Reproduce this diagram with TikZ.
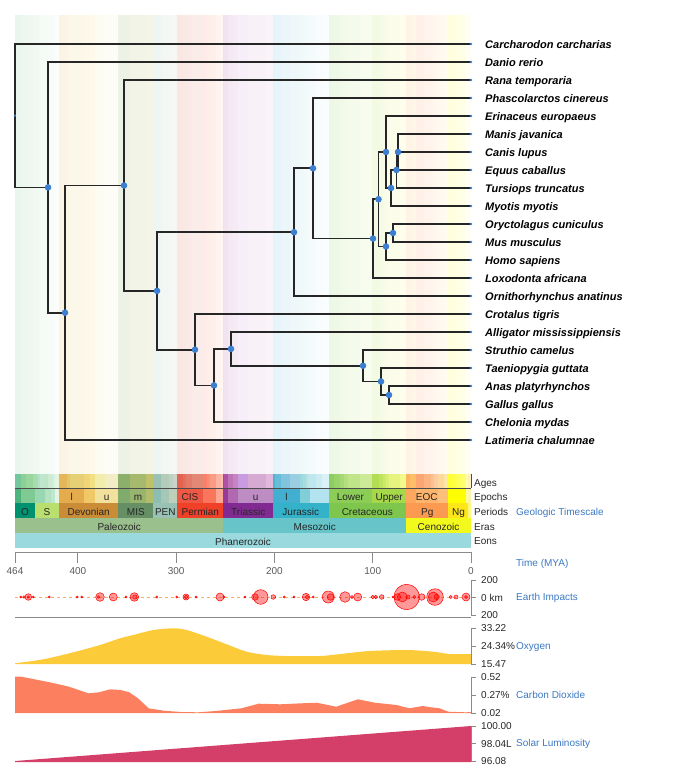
\documentclass[tikz,border=0pt]{standalone}
\usepackage{fontspec}
\setmainfont{Liberation Sans}
\definecolor{TreeBlue}{HTML}{3C7FD1}
\definecolor{LinkBlue}{HTML}{3B78C2}
\definecolor{OxyYellow}{HTML}{FBCB3A}
\definecolor{CoCoral}{HTML}{FC8060}
\definecolor{SunRed}{HTML}{D43F6A}
\definecolor{AxisGray}{HTML}{8A8A8A}
\definecolor{DashOrange}{HTML}{F5B060}
\usepackage{tikz}
\usetikzlibrary{positioning}
\newcommand{\tpos}[1]{471-0.98276*(#1)}

\begin{document}
\begin{tikzpicture}[x=1pt, y=-1pt,
    branch/.style={draw=black!85, line width=1.7pt},
    taxon/.style={font=\fontsize{11}{13}\selectfont\bfseries\itshape, inner sep=0pt, text height=9pt, text depth=0pt},
    geo/.style={font=\fontsize{10}{12}\selectfont, text=black!85, inner sep=0pt, anchor=base},
    rowlab/.style={geo, anchor=base west},
    axlab/.style={font=\fontsize{10}{12}\selectfont, text=black!85, inner sep=0pt, anchor=west, text height=7pt, text depth=0pt},
    link/.style={font=\fontsize{10}{12}\selectfont, text=LinkBlue, inner sep=0pt, anchor=west, text height=7pt, text depth=0pt},
    tick/.style={draw=AxisGray, line width=0.8pt},
    impact/.style={draw=red, fill=red, fill opacity=0.4, line width=0.5pt}]

  \useasboundingbox (0,0) rectangle (675,770);

  \foreach \s/\e/\c in {464/458.4/74C69C, 458.4/453/8CD094, 453/445.2/99D69F, 445.2/443.8/A6DBAB,
      443.8/440.8/A6DCB5, 440.8/438.5/B3E1C2, 438.5/433.4/BFE6CF, 433.4/430.5/BFE6C3, 430.5/427.4/CCEBD1,
      427.4/425.6/CCECDD, 425.6/423/D9F0DF, 423/419.2/E6F5E1,
      419.2/410.8/E5B75A, 410.8/407.6/E5C468, 407.6/393.3/E5D075, 393.3/387.7/F1D576, 387.7/382.7/F1E185,
      382.7/372.2/F2EDAD, 372.2/358.9/F2EDC5,
      358.9/346.7/8CB06C, 346.7/330.9/A6B96C, 330.9/323.2/BFC26B,
      323.2/315.2/99C2B5, 315.2/307/B3CBB9, 307/303.7/BFD0C5, 303.7/298.9/CCD4C7,
      298.9/293.5/E36350, 293.5/290.1/E36F5C, 290.1/283.5/E37B68, 283.5/273/E38776, 273/268.8/FB8069,
      268.8/265.1/FB8D76, 265.1/259.1/FB9A85, 259.1/254.1/FCB4A2, 254.1/251.9/FCC0B2,
      251.9/251.2/A4469F, 251.2/247.2/B051A5, 247.2/242/BC75B7, 242/237/C983BF, 237/227/C99BE3,
      227/208.5/D6AAD3, 208.5/201.4/E3B9DB,
      201.4/199.5/4EB3D3, 199.5/192.9/67BCD8, 192.9/184.2/80C5DD, 184.2/174.1/99CEE3, 174.1/170.9/9AD9DD,
      170.9/168.2/A6DDE0, 168.2/166.1/B3E2E3, 166.1/163.5/BFE7E5, 163.5/157.3/BFE7F1, 157.3/152.1/CCECF4,
      152.1/145/D9F1F7,
      145/139.8/8CCD60, 139.8/132.9/99D36A, 132.9/129.4/A6D975, 129.4/125/B3DF7F, 125/113/BFE48A,
      113/100.5/CCEA97, 100.5/93.9/B3DE53, 93.9/89.8/BFE35D, 89.8/86.3/CCE968, 86.3/83.6/D9EF74,
      83.6/72.1/E6F47F, 72.1/66/F2FA8C,
      66/61.6/FDB462, 61.6/59.2/FEBF65, 59.2/56/FDBF6F, 56/47.8/FCA773, 47.8/41.2/FCB482,
      41.2/37.7/FDC091, 37.7/33.9/FDCDA1, 33.9/27.8/FED99A, 27.8/23.03/FEE6AA,
      23.03/20.44/FFFF33, 20.44/15.97/FFFF41, 15.97/13.82/FFFF4D, 13.82/11.63/FFFF59, 11.63/7.25/FFFF66,
      7.25/5.33/FFFF73, 5.33/3.6/FFFFB3, 3.6/2.58/FFFFBF, 2.58/1.8/FFEDB3, 1.8/0.77/FFF2BA, 0.77/0/FFF2C7}{
    \definecolor{agecol}{HTML}{\c}
    \fill[agecol, opacity=0.16] ({\tpos{\s}},15) rectangle ({\tpos{\e}},474);
    \fill[agecol] ({\tpos{\s}},474) rectangle ({\tpos{\e}},488.3);
  }
  \draw[black!70, line width=0.8pt] (15,488) -- (471,488);
  \draw[black!70, line width=1pt] (471,474) -- (471,488);

  \foreach \s/\e/\c/\l [count=\i] in {464/458.4/4DB47E/{}, 458.4/443.8/7FCA93/{}, 443.8/433.4/99D7B3/{},
      433.4/427.4/B3E1C2/{}, 427.4/423/BFE6CF/{}, 423/419.2/E6F5E1/{},
      419.2/393.3/E5AC4D/l, 393.3/382.7/F1C868/{}, 382.7/358.9/F1E19D/u,
      358.9/346.7/80AB6C/{}, 346.7/330.9/99B46C/m, 330.9/323.2/B3BE6C/{},
      323.2/315.2/8CBEB4/{}, 315.2/307/A6C7B7/{}, 307/298.9/BFD0BA/{},
      298.9/272.95/EF5845/CIS, 272.95/259.1/FB745C/{}, 259.1/251.9/FBA794/{},
      251.9/247.2/983999/{}, 247.2/237/B168B1/{}, 237/201.4/BD8CC3/u,
      201.4/174.1/42AED0/l, 174.1/163.5/80CFD8/{}, 163.5/145/B3E3EE/{},
      145/100.5/8CCD57/Lower, 100.5/66/A6D84A/Upper,
      66/56/FDA75F/{}, 56/33.9/FDB46C/EOC, 33.9/23.03/FDC07A/{},
      23.03/5.33/FFFF00/{}, 5.33/2.58/FFFF99/{}, 2.58/0/FFF2AE/{}}{
    \definecolor{epcol}{HTML}{\c}
    \fill[epcol] ({\tpos{\s}},488.8) rectangle ({\tpos{\e}},503.3);
    \node[geo] (epoch\i) at ({\tpos{(\s+\e)/2}},500) {\l};
  }

  \foreach \s/\e/\c/\l [count=\i] in {464/443.8/009270/O, 443.8/419.2/B9E06E/S, 419.2/358.9/CB8C37/Devonian,
      358.9/323.2/678F66/MIS, 323.2/298.9/99C2B5/PEN, 298.9/251.9/F04028/Permian,
      251.9/201.4/812B92/Triassic, 201.4/145/34B2C9/Jurassic, 145/66/7FC64E/Cretaceous,
      66/23.03/FD9A52/Pg, 23.03/2.58/FFE619/Ng, 2.58/0/F9F97F/{}}{
    \definecolor{pecol}{HTML}{\c}
    \fill[pecol] ({\tpos{\s}},503.3) rectangle ({\tpos{\e}},518.3);
    \node[geo] (period\i) at ({\tpos{(\s+\e)/2}},515) {\l};
  }

  \foreach \s/\e/\c/\l [count=\i] in {464/251.9/99C08D/Paleozoic, 251.9/66/67C5CA/Mesozoic, 66/0/F2F91D/Cenozoic}{
    \definecolor{ercol}{HTML}{\c}
    \fill[ercol] ({\tpos{\s}},518.3) rectangle ({\tpos{\e}},533.3);
    \node[geo] (era\i) at ({\tpos{(\s+\e)/2}},530) {\l};
  }

  \fill[fill={rgb,255:red,154;green,217;blue,221}] (15,533.3) rectangle (471,548.3);
  \node[geo] (eon) at (243,545) {Phanerozoic};

  \node[rowlab] (ages) at (474,486.5) {Ages};
  \node[rowlab] (epochs) at (474,500) {Epochs};
  \node[rowlab] (periods) at (474,515.5) {Periods};
  \node[rowlab] (eras) at (474,530.5) {Eras};
  \node[rowlab] (eons) at (474,544.5) {Eons};
  \node[link] (geoname) at (516,512) {Geologic Timescale};

  \coordinate (vert) at (15,115.7);
  \coordinate (osteo) at (48,187.4);
  \coordinate (sarco) at (65,312.7);
  \coordinate (tetra) at (124,185.5);
  \coordinate (amnio) at (157,290.9);
  \coordinate (mamm) at (294,232.2);
  \coordinate (ther) at (313,168.3);
  \coordinate (plac) at (373,238.6);
  \coordinate (bore) at (378.5,199.25);
  \coordinate (laur) at (386,152);
  \coordinate (scro) at (391,188);
  \coordinate (fere) at (396.5,170);
  \coordinate (fera) at (398,152);
  \coordinate (euar) at (386,246.5);
  \coordinate (glir) at (393,233);
  \coordinate (saur) at (195,349.7);
  \coordinate (arch) at (214,385.4);
  \coordinate (archo) at (231,348.9);
  \coordinate (aves) at (363,365.75);
  \coordinate (neog) at (381,381.5);
  \coordinate (gall) at (389,395);

  \foreach \name [count=\i from 0] in {Carcharodon carcharias, Danio rerio, Rana temporaria,
      Phascolarctos cinereus, Erinaceus europaeus, Manis javanica, Canis lupus, Equus caballus,
      Tursiops truncatus, Myotis myotis, Oryctolagus cuniculus, Mus musculus, Homo sapiens,
      Loxodonta africana, Ornithorhynchus anatinus, Crotalus tigris, Alligator mississippiensis,
      Struthio camelus, Taeniopygia guttata, Anas platyrhynchos, Gallus gallus, Chelonia mydas,
      Latimeria chalumnae}{
    \coordinate (t\i) at (471,{44+18*\i});
    \node[taxon, right=14pt of t\i] (n\i) {\name};
  }

  \draw[branch] (t0) -| (vert) |- (osteo);
  \draw[branch] (t1) -| (osteo) |- (sarco);
  \draw[branch] (tetra) -| (sarco) |- (t22);
  \draw[branch] (t2) -| (tetra) |- (amnio);
  \draw[branch] (mamm) -| (amnio) |- (saur);
  \draw[branch] (ther) -| (mamm) |- (t14);
  \draw[branch] (t3) -| (ther) |- (plac);
  \draw[branch] (bore) -| (plac) |- (t13);
  \draw[branch] (laur) -| (bore) |- (euar);
  \draw[branch] (t4) -| (laur) |- (scro);
  \draw[branch] (fere) -| (scro) |- (t9);
  \draw[branch] (fera) -| (fere) |- (t8);
  \draw[branch] (t5) -| (fera) |- (t7);
  \draw[branch] (fera) -- (t6);
  \draw[branch] (glir) -| (euar) |- (t12);
  \draw[branch] (t10) -| (glir) |- (t11);
  \draw[branch] (t15) -| (saur) |- (arch);
  \draw[branch] (archo) -| (arch) |- (t21);
  \draw[branch] (t16) -| (archo) |- (aves);
  \draw[branch] (t17) -| (aves) |- (neog);
  \draw[branch] (t18) -| (neog) |- (gall);
  \draw[branch] (t19) -| (gall) |- (t20);

  \foreach \n in {osteo, sarco, tetra, amnio, mamm, ther, plac, bore, laur, scro, fere, fera,
      euar, glir, saur, arch, archo, aves, neog, gall}
    \fill[TreeBlue] (\n) circle (3.3pt);
  \foreach \i in {0,...,22}
    \fill[TreeBlue] (t\i) circle (1.4pt);
  \fill[TreeBlue] (vert) circle (1.2pt);

  \draw[tick] (15,563) -- (15,552) -- (471,552) -- (471,563);
  \foreach \t in {464,400,300,200,100,0}{
    \draw[tick] ({\tpos{\t}},552) -- ++(0,11);
    \node[geo, text=black!65] (tick\t) at ({\tpos{\t}},574) {\t};
  }
  \node[link] (timename) at (516,563) {Time (MYA)};

  \draw[DashOrange, dash pattern=on 3pt off 3pt, line width=0.8pt] (15,597) -- (471,597);
  \foreach \x/\r in {20.7/1, 24/1.2, 28.3/3.3, 28.3/1.2, 33.3/1, 49.3/1, 77.3/1, 81.7/1, 100/4.3, 98.5/1.2,
      113.3/4, 126/1, 134.3/4.3, 134.8/2.2, 156.7/1, 176.7/1, 186/3, 186/1.8, 196/1, 220/4, 224/1,
      245/1, 255/3.3, 260.7/7.3, 273.3/2.3, 284.3/1, 294/1, 306/3.7, 307/1.8, 313.3/1, 328.3/6,
      330.5/3.3, 345/5.3, 352/1.5, 357.7/4, 372.7/1.8, 375.7/1.8, 381.7/2.3, 393/1, 397.3/3.3,
      406.7/12.7, 402.3/5, 408/2, 414.3/1.5, 421.7/3.3, 435/8.3, 433.3/5, 436.7/2.7, 450.7/1.5,
      456/2, 466/4, 466/1.5}
    \draw[impact] (\x,597) circle (\r pt);
  \draw[AxisGray, line width=0.8pt] (15,617) -- (471,617);
  \node[link] (impname) at (516,597) {Earth Impacts};

  \fill[OxyYellow] (15,664) -- plot[smooth] coordinates {(15,663.3) (43.3,659.3) (73.3,652.3) (100,645)
      (120,638.3) (133.3,635) (153.3,630) (173.3,628.3) (186.7,630) (206.7,636.7) (226.7,644.3)
      (246.7,651.7) (266.7,655) (286.7,656) (320,656) (346.7,653.3) (370,651) (406.7,650)
      (433.3,651.7) (450,654) (471,654)} -- (471,664) -- cycle;
  \node[link] (oxyname) at (516,646) {Oxygen};

  \fill[CoCoral] (15,713) -- plot coordinates {(15,676.7) (21.5,676.7) (51.7,682.7) (69,686.7)
      (88.4,693.3) (99,692.3) (110,689.3) (120.7,690) (129.3,692.3) (138,698.3) (148.7,708.3)
      (163.8,710.7) (181,712) (198,712.3) (215.5,711) (241.4,708.3) (258.6,703.7) (280.2,704.3)
      (301.7,703.3) (316.8,702.7) (336.2,706.7) (357.8,699.3) (375,702.7) (396.6,705) (409.5,708.3)
      (422.4,706) (431,707.3) (439.7,708.3) (448.3,711.7) (465.5,712.3) (471,712)} -- (471,713) -- cycle;
  \node[link] (coname) at (516,695) {Carbon Dioxide};

  \fill[SunRed] (15,761) -- (471,726) -- (471,762) -- (15,762) -- cycle;
  \node[link] (sunname) at (516,743) {Solar Luminosity};

  \foreach \ya/\yb/\ta/\tm/\tb [count=\k] in {580/615/200/0 km/200, 628/664/33.22/24.34\%/15.47,
      677/713/0.52/0.27\%/0.02, 726/761/100.00/98.04L/96.08}{
    \draw[tick] (476,\ya) -- (471,\ya) -- (471,\yb) -- (476,\yb);
    \draw[tick] (471,{(\ya+\yb)/2}) -- ++(5,0);
    \node[axlab] (axtop\k) at (481,\ya) {\ta};
    \node[axlab] (axmid\k) at (481,{(\ya+\yb)/2}) {\tm};
    \node[axlab] (axbot\k) at (481,\yb) {\tb};
  }
\end{tikzpicture}
\end{document}
